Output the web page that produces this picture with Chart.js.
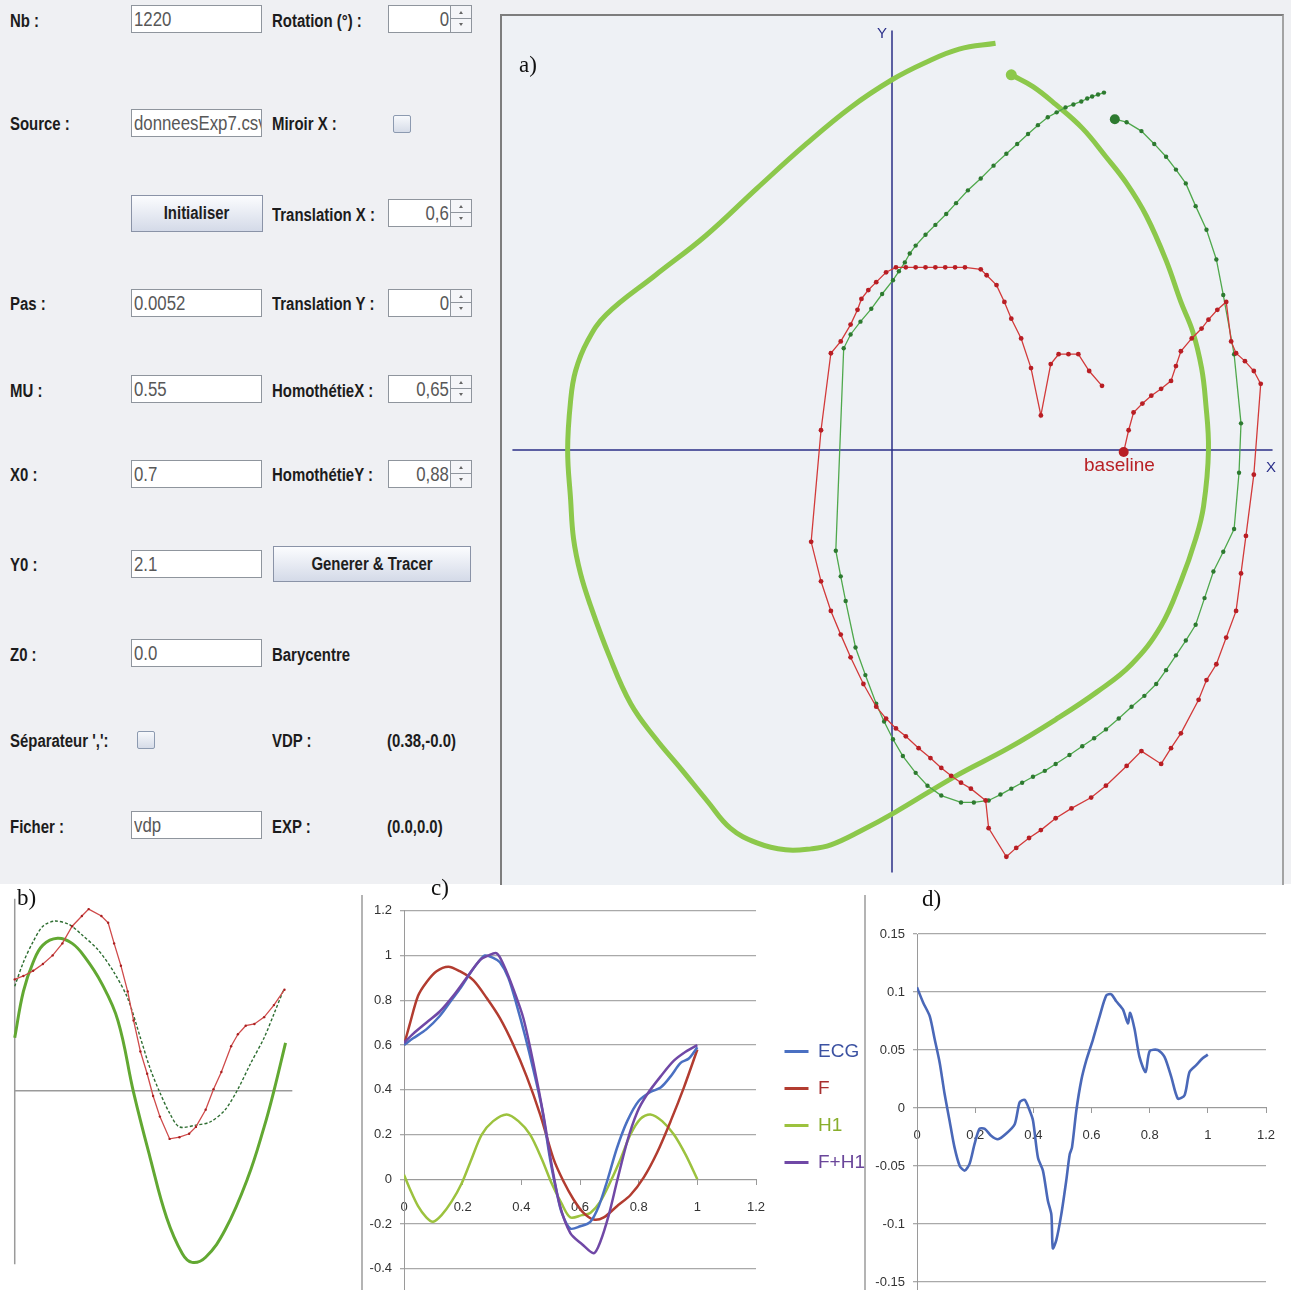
<!DOCTYPE html>
<html><head><meta charset="utf-8">
<script src="https://cdn.jsdelivr.net/npm/chart.js@4.4.1/dist/chart.umd.min.js"></script>
<style>
body{margin:0;width:1291px;height:1290px;position:relative;background:#fff;overflow:hidden;font-family:"Liberation Sans",Arial,sans-serif;}
#top{position:absolute;left:0;top:0;width:1291px;height:884px;background:#eff0f3;}
.lbl{position:absolute;font-weight:bold;font-size:18px;line-height:20px;color:#1c1c1c;white-space:nowrap;transform:scaleX(0.83);transform-origin:0 50%;}
.inp{position:absolute;width:131px;height:28px;box-sizing:border-box;border:1px solid #8f959d;background:#fff;font-size:20px;line-height:27px;padding-left:2px;color:#585858;overflow:hidden;white-space:nowrap;}
.inp span{display:inline-block;transform:scaleX(0.84);transform-origin:0 50%;}
.spin{position:absolute;left:388px;width:84px;height:28px;box-sizing:border-box;border:1px solid #8f959d;background:#fff;}
.spin .v{position:absolute;right:22px;top:0;line-height:27px;font-size:20px;color:#585858;transform:scaleX(0.84);transform-origin:100% 50%;}
.spin .arr{position:absolute;right:0;top:0;width:20px;height:26px;border-left:1px solid #8f959d;background:#f4f5f8;}
.spin .arr .mid{position:absolute;left:0;right:0;top:12px;border-top:1px solid #8f959d;}
.spin .arr i{position:absolute;left:8px;width:0;height:0;border-left:2px solid transparent;border-right:2px solid transparent;}
.spin .arr i.u{top:5px;border-bottom:3px solid #666;}
.spin .arr i.d{top:17px;border-top:3px solid #666;}
.btn{position:absolute;box-sizing:border-box;border:1px solid #8a93a7;background:linear-gradient(#fbfcfe,#d4dae8);font-weight:bold;font-size:18px;color:#1e1e1e;text-align:center;}
.btn span{display:inline-block;transform:scaleX(0.83);transform-origin:50% 50%;}
.chk{position:absolute;width:18px;height:18px;box-sizing:border-box;border:1px solid #8c9ab0;border-radius:2px;background:linear-gradient(#f7f9fc,#d6dce8);}
#frameA{position:absolute;left:500px;top:14px;width:780px;height:869px;border-left:2px solid #7d7d7d;border-top:2px solid #7d7d7d;border-right:2px solid #a3a3a3;background:#eef1f5;}
canvas{position:absolute;}
.txt{position:absolute;white-space:nowrap;}
.serif{font-family:"Liberation Serif","DejaVu Serif",serif;font-size:23px;color:#111;}
.vline{position:absolute;width:0;border-left:2px solid #b4b4b4;}
</style></head>
<body>
<div id="top"></div>
<!-- form -->
<div class="lbl" style="left:10px;top:11px">Nb :</div>
<div class="inp" style="left:131px;top:5px"><span>1220</span></div>
<div class="lbl" style="left:272px;top:11px">Rotation (°) :</div>
<div class="spin" style="top:5px"><span class="v">0</span><div class="arr"><i class="u"></i><div class="mid"></div><i class="d"></i></div></div>

<div class="lbl" style="left:10px;top:114px">Source :</div>
<div class="inp" style="left:131px;top:109px"><span>donneesExp7.csv</span></div>
<div class="lbl" style="left:272px;top:114px">Miroir X :</div>
<div class="chk" style="left:393px;top:115px"></div>

<div class="btn" style="left:131px;top:195px;width:132px;height:37px;line-height:35px"><span>Initialiser</span></div>
<div class="lbl" style="left:272px;top:205px">Translation X :</div>
<div class="spin" style="top:199px"><span class="v">0,6</span><div class="arr"><i class="u"></i><div class="mid"></div><i class="d"></i></div></div>

<div class="lbl" style="left:10px;top:294px">Pas :</div>
<div class="inp" style="left:131px;top:289px"><span>0.0052</span></div>
<div class="lbl" style="left:272px;top:294px">Translation Y :</div>
<div class="spin" style="top:289px"><span class="v">0</span><div class="arr"><i class="u"></i><div class="mid"></div><i class="d"></i></div></div>

<div class="lbl" style="left:10px;top:381px">MU :</div>
<div class="inp" style="left:131px;top:375px"><span>0.55</span></div>
<div class="lbl" style="left:272px;top:381px">HomothétieX :</div>
<div class="spin" style="top:375px"><span class="v">0,65</span><div class="arr"><i class="u"></i><div class="mid"></div><i class="d"></i></div></div>

<div class="lbl" style="left:10px;top:465px">X0 :</div>
<div class="inp" style="left:131px;top:460px"><span>0.7</span></div>
<div class="lbl" style="left:272px;top:465px">HomothétieY :</div>
<div class="spin" style="top:460px"><span class="v">0,88</span><div class="arr"><i class="u"></i><div class="mid"></div><i class="d"></i></div></div>

<div class="lbl" style="left:10px;top:555px">Y0 :</div>
<div class="inp" style="left:131px;top:550px"><span>2.1</span></div>
<div class="btn" style="left:273px;top:546px;width:198px;height:36px;line-height:34px"><span>Generer &amp; Tracer</span></div>

<div class="lbl" style="left:10px;top:645px">Z0 :</div>
<div class="inp" style="left:131px;top:639px"><span>0.0</span></div>
<div class="lbl" style="left:272px;top:645px">Barycentre</div>

<div class="lbl" style="left:10px;top:731px">Séparateur ',':</div>
<div class="chk" style="left:137px;top:731px"></div>
<div class="lbl" style="left:272px;top:731px">VDP :</div>
<div class="lbl" style="left:387px;top:731px">(0.38,-0.0)</div>

<div class="lbl" style="left:10px;top:817px">Ficher :</div>
<div class="inp" style="left:131px;top:811px"><span>vdp</span></div>
<div class="lbl" style="left:272px;top:817px">EXP :</div>
<div class="lbl" style="left:387px;top:817px">(0.0,0.0)</div>

<div id="frameA"></div>
<canvas id="cA" width="780" height="867" style="left:502px;top:16px"></canvas>
<canvas id="cB" width="310" height="400" style="left:0px;top:885px"></canvas>
<div class="vline" style="left:361px;top:895px;height:395px"></div>
<div class="vline" style="left:864px;top:895px;height:395px"></div>
<canvas id="cD" width="425" height="412" style="left:866px;top:895px"></canvas>
<canvas id="cC" width="725" height="412" style="left:150px;top:895px"></canvas>

<div class="txt serif" style="left:519px;top:52px">a)</div>
<div class="txt" style="left:877px;top:24px;font-size:15px;color:#2a2f8a">Y</div>
<div class="txt" style="left:1266px;top:458px;font-size:15px;color:#2a2f8a">X</div>
<div class="txt" style="left:1084px;top:454px;font-size:19px;color:#b82025">baseline</div>
<div class="txt serif" style="left:17px;top:885px">b)</div>
<div class="txt serif" style="left:431px;top:875px">c)</div>
<div class="txt serif" style="left:922px;top:886px">d)</div>

<script>
// ---------- Panel a) : loops in the X/Y plane ----------
const A_LOOP_X = [1.05,0.68,0.33,0,-0.42,-0.87,-1.37,-1.89,-2.40,-2.90,-3.09,-3.21,-3.26,-3.29,-3.26,-3.23,-3.16,-3.06,-2.87,-2.65,-2.40,-2.14,-1.87,-1.64,-1.37,-1.08,-0.82,-0.62,-0.32,0.03,0.65,1.18,1.66,2.08,2.43,2.73,2.93,3.08,3.16,3.21,3.18,3.14,3.05,2.93,2.78,2.58,2.38,2.17,1.93,1.66,1.43,1.21];
const A_LOOP_Y = [4.12,4.06,3.92,3.75,3.47,3.10,2.65,2.17,1.77,1.37,1.10,0.80,0.50,0,-0.50,-0.90,-1.25,-1.57,-2.08,-2.57,-2.92,-3.23,-3.56,-3.83,-3.98,-4.05,-4.04,-4.00,-3.86,-3.67,-3.30,-3.02,-2.73,-2.45,-2.17,-1.78,-1.33,-0.90,-0.57,0,0.50,0.83,1.20,1.50,1.92,2.37,2.70,2.97,3.26,3.50,3.68,3.80];
const A_DOT_X = [2.26,2.38,2.53,2.66,2.78,2.88,2.98,3.08,3.19,3.29,3.36,3.47,3.54,3.52,3.47,3.36,3.26,3.17,3.08,2.98,2.88,2.78,2.68,2.56,2.43,2.30,2.17,2.05,1.93,1.80,1.66,1.55,1.43,1.32,1.21,1.10,0.98,0.83,0.70,0.50,0.36,0.24,0.11,0.01,-0.08,-0.16,-0.27,-0.37,-0.47,-0.52,-0.57,-0.49,-0.42,-0.32,-0.21,-0.10,0.01,0.07,0.13,0.18,0.24,0.34,0.44,0.55,0.65,0.77,0.90,1.03,1.16,1.27,1.38,1.48,1.58,1.67,1.76,1.84,1.92,1.98,2.03,2.09,2.15];
const A_DOT_Y = [3.35,3.32,3.23,3.10,2.97,2.84,2.70,2.47,2.23,1.93,1.57,0.97,0.27,-0.23,-0.80,-1.03,-1.23,-1.50,-1.77,-1.93,-2.08,-2.23,-2.37,-2.49,-2.60,-2.72,-2.83,-2.92,-3.00,-3.09,-3.18,-3.25,-3.31,-3.37,-3.43,-3.49,-3.55,-3.57,-3.57,-3.50,-3.40,-3.27,-3.10,-2.93,-2.75,-2.57,-2.28,-2.00,-1.53,-1.28,-1.02,1.03,1.17,1.30,1.43,1.58,1.72,1.81,1.90,1.99,2.07,2.18,2.28,2.39,2.50,2.63,2.75,2.88,3.00,3.10,3.20,3.29,3.37,3.42,3.47,3.50,3.53,3.56,3.58,3.60,3.62];
const A_RED_X = [2.35,2.40,2.45,2.54,2.63,2.73,2.83,2.88,2.93,3.04,3.14,3.21,3.30,3.39,3.44,3.49,3.58,3.67,3.74,3.67,3.59,3.54,3.49,3.39,3.29,3.19,3.11,2.93,2.83,2.73,2.53,2.38,2.17,2.02,1.82,1.66,1.51,1.39,1.26,1.16,0.98,0.95,0.80,0.70,0.60,0.50,0.39,0.27,0.14,0.04,-0.06,-0.16,-0.29,-0.42,-0.52,-0.62,-0.72,-0.82,-0.72,-0.62,-0.52,-0.42,-0.35,-0.31,-0.24,-0.16,-0.06,0.04,0.14,0.24,0.34,0.44,0.54,0.64,0.74,0.90,0.96,1.06,1.14,1.21,1.31,1.41,1.51,1.61,1.69,1.79,1.89,2.00,2.13];
const A_RED_Y = [-0.02,0.20,0.38,0.47,0.55,0.62,0.70,0.85,1.00,1.13,1.23,1.32,1.42,1.50,1.10,0.98,0.90,0.80,0.67,-0.25,-0.87,-1.25,-1.63,-1.90,-2.17,-2.33,-2.53,-2.87,-3.02,-3.18,-3.05,-3.20,-3.40,-3.52,-3.63,-3.73,-3.85,-3.93,-4.03,-4.12,-3.83,-3.55,-3.43,-3.37,-3.30,-3.22,-3.12,-3.02,-2.90,-2.82,-2.72,-2.60,-2.37,-2.10,-1.87,-1.63,-1.33,-0.93,0.20,0.98,1.10,1.27,1.42,1.53,1.62,1.70,1.80,1.85,1.85,1.85,1.85,1.85,1.85,1.85,1.85,1.83,1.77,1.67,1.50,1.33,1.13,0.83,0.35,0.87,0.97,0.97,0.97,0.80,0.65];
const A_XAXIS_X = [-3.85, 3.86], A_XAXIS_Y = [0, 0];
const A_YAXIS_X = [0, 0], A_YAXIS_Y = [4.25, -4.28];

// ---------- Panel b) ----------
const B_THICK_X = [0,0.032,0.068,0.104,0.158,0.212,0.259,0.320,0.381,0.439,0.500,0.561,0.619,0.655,0.705,0.777,0.860,0.921,0.957,1.0];
const B_THICK_Y = [0.31,0.58,0.75,0.85,0.89,0.86,0.78,0.63,0.41,-0.01,-0.39,-0.74,-0.95,-1.0,-0.97,-0.81,-0.51,-0.21,0,0.28];
const B_DASH_X = [0,0.032,0.068,0.104,0.147,0.201,0.248,0.309,0.367,0.417,0.464,0.500,0.536,0.572,0.608,0.669,0.723,0.777,0.824,0.871,0.921,0.960,0.993];
const B_DASH_Y = [0.61,0.75,0.87,0.96,0.99,0.97,0.91,0.82,0.69,0.54,0.31,0.13,-0.01,-0.13,-0.21,-0.20,-0.18,-0.11,0.01,0.16,0.31,0.46,0.59];
const B_RED_X = [0,0.032,0.068,0.104,0.140,0.176,0.212,0.248,0.273,0.320,0.345,0.367,0.392,0.417,0.439,0.464,0.489,0.511,0.536,0.572,0.608,0.644,0.669,0.705,0.734,0.763,0.799,0.824,0.853,0.885,0.921,0.957,0.996];
const B_RED_Y = [0.65,0.67,0.70,0.74,0.79,0.86,0.96,1.02,1.06,1.02,0.98,0.86,0.73,0.58,0.41,0.23,0.10,-0.03,-0.15,-0.28,-0.27,-0.25,-0.21,-0.11,0.01,0.11,0.26,0.33,0.38,0.39,0.43,0.50,0.59];
const B_HAXIS_X = [0, 1.025], B_HAXIS_Y = [0, 0];
const B_VAXIS_X = [0, 0], B_VAXIS_Y = [1.12, -1.011];

// ---------- Panel c) ----------
const C_SERIES = ['ECG', 'F', 'H1', 'F+H1'];
const C_ECG_X = [0,0.031,0.076,0.122,0.156,0.190,0.225,0.253,0.276,0.304,0.327,0.356,0.384,0.413,0.441,0.470,0.498,0.521,0.538,0.567,0.601,0.635,0.664,0.692,0.726,0.761,0.800,0.840,0.875,0.909,0.943,0.971,1.0];
const C_ECG_Y = [0.60,0.63,0.67,0.73,0.79,0.85,0.92,0.97,1.00,0.99,0.97,0.90,0.78,0.64,0.49,0.32,0.09,-0.06,-0.15,-0.22,-0.21,-0.19,-0.12,-0.01,0.14,0.26,0.35,0.39,0.41,0.46,0.52,0.54,0.59];
const C_F_X = [0,0.019,0.048,0.076,0.111,0.151,0.190,0.236,0.282,0.327,0.373,0.418,0.464,0.510,0.544,0.578,0.612,0.647,0.681,0.726,0.772,0.818,0.863,0.909,0.954,1.0];
const C_F_Y = [0.60,0.69,0.82,0.88,0.93,0.95,0.93,0.89,0.81,0.72,0.60,0.46,0.29,0.09,-0.01,-0.09,-0.15,-0.18,-0.17,-0.12,-0.07,0.01,0.12,0.26,0.41,0.58];
const C_H1_X = [0,0.019,0.048,0.076,0.099,0.128,0.162,0.196,0.230,0.265,0.304,0.350,0.390,0.430,0.470,0.504,0.538,0.567,0.607,0.635,0.669,0.704,0.738,0.772,0.806,0.840,0.880,0.920,0.960,1.0];
const C_H1_Y = [0.02,-0.04,-0.12,-0.17,-0.19,-0.16,-0.10,-0.02,0.09,0.20,0.26,0.29,0.26,0.20,0.09,-0.02,-0.11,-0.17,-0.16,-0.15,-0.10,-0.01,0.09,0.20,0.27,0.29,0.26,0.20,0.11,0.00];
const C_FH_X = [0,0.031,0.076,0.122,0.168,0.213,0.259,0.287,0.316,0.339,0.373,0.407,0.441,0.475,0.504,0.532,0.567,0.607,0.647,0.669,0.698,0.726,0.761,0.795,0.829,0.875,0.920,0.960,1.0];
const C_FH_Y = [0.61,0.65,0.70,0.75,0.82,0.90,0.98,1.00,1.01,0.96,0.85,0.72,0.52,0.29,0.06,-0.12,-0.24,-0.29,-0.33,-0.28,-0.16,-0.01,0.17,0.30,0.38,0.46,0.53,0.57,0.60];
const C_Y_TICKS = [-0.4, -0.2, 0, 0.2, 0.4, 0.6, 0.8, 1, 1.2];
const C_X_TICKS = [0, 0.2, 0.4, 0.6, 0.8, 1, 1.2];

// ---------- Panel d) ----------
const D_X = [0,0.021,0.044,0.061,0.078,0.095,0.112,0.129,0.147,0.164,0.181,0.198,0.215,0.233,0.255,0.278,0.307,0.336,0.353,0.370,0.387,0.399,0.416,0.433,0.450,0.462,0.467,0.479,0.496,0.513,0.525,0.533,0.548,0.565,0.582,0.605,0.628,0.651,0.668,0.685,0.708,0.725,0.733,0.748,0.765,0.786,0.800,0.828,0.851,0.874,0.897,0.920,0.937,0.960,0.983,1.0];
const D_Y = [0.104,0.091,0.079,0.059,0.039,0.012,-0.011,-0.034,-0.050,-0.054,-0.048,-0.031,-0.018,-0.018,-0.024,-0.027,-0.022,-0.014,0.005,0.007,-0.002,-0.011,-0.043,-0.054,-0.080,-0.092,-0.121,-0.114,-0.092,-0.063,-0.040,-0.034,-0.002,0.024,0.041,0.059,0.079,0.097,0.098,0.092,0.085,0.073,0.082,0.068,0.044,0.031,0.049,0.050,0.044,0.027,0.008,0.011,0.031,0.037,0.043,0.046];
const D_Y_TICKS = [-0.15, -0.1, -0.05, 0, 0.05, 0.1, 0.15];
const D_X_TICKS = [0, 0.2, 0.4, 0.6, 0.8, 1, 1.2];

function pts(xs, ys) { return xs.map((x, i) => ({x: x, y: ys[i]})); }
function fmt(v) { return String(Math.round(v * 1000) / 1000); }

Chart.defaults.font.family = '"Liberation Sans",Arial,sans-serif';
const base = {animation: false, responsive: false, events: [], devicePixelRatio: 1};

// ---- chart a
new Chart(document.getElementById('cA'), {
  type: 'scatter',
  data: {datasets: [
    {data: pts(A_RED_X, A_RED_Y), showLine: true, borderColor: '#d23a3a', borderWidth: 1.3, backgroundColor: '#b81e24',
     pointRadius: c => c.dataIndex === 0 ? 5 : 2.4, pointBorderWidth: 0, tension: 0, order: 1},
    {data: pts(A_DOT_X, A_DOT_Y), showLine: true, borderColor: '#4fa84c', borderWidth: 1.3, backgroundColor: '#2d7a30',
     pointRadius: c => c.dataIndex === 0 ? 5 : 2.2, pointBorderWidth: 0, tension: 0, order: 2},
    {data: pts(A_LOOP_X, A_LOOP_Y), showLine: true, borderColor: '#8cc84b', borderWidth: 5, backgroundColor: '#8cc84b',
     pointRadius: c => c.dataIndex === A_LOOP_X.length - 1 ? 5.5 : 0, pointBorderWidth: 0, tension: 0.4, order: 3},
    {data: pts(A_XAXIS_X, A_XAXIS_Y), showLine: true, borderColor: '#2a2e86', borderWidth: 1.5, pointRadius: 0, order: 4},
    {data: pts(A_YAXIS_X, A_YAXIS_Y), showLine: true, borderColor: '#2a2e86', borderWidth: 1.5, pointRadius: 0, order: 4}
  ]},
  options: Object.assign({}, base, {
    layout: {padding: 0},
    plugins: {legend: {display: false}, tooltip: {enabled: false}},
    scales: {
      x: {type: 'linear', display: false, min: -3.90, max: 3.90},
      y: {type: 'linear', display: false, min: -4.33, max: 4.34}
    }
  })
});

// ---- chart b
new Chart(document.getElementById('cB'), {
  type: 'scatter',
  data: {datasets: [
    {data: pts(B_RED_X, B_RED_Y), showLine: true, borderColor: '#cf4a4a', borderWidth: 1.3, backgroundColor: '#a82020',
     pointRadius: 1.2, pointBorderWidth: 0, tension: 0, order: 1},
    {data: pts(B_DASH_X, B_DASH_Y), showLine: true, borderColor: '#2f6e32', borderWidth: 1.4, borderDash: [3, 2],
     pointRadius: 0, tension: 0.3, order: 2},
    {data: pts(B_THICK_X, B_THICK_Y), showLine: true, borderColor: '#62a832', borderWidth: 3,
     pointRadius: 0, tension: 0.4, order: 3},
    {data: pts(B_HAXIS_X, B_HAXIS_Y), showLine: true, borderColor: '#9a9a9a', borderWidth: 1.5, pointRadius: 0, order: 4},
    {data: pts(B_VAXIS_X, B_VAXIS_Y), showLine: true, borderColor: '#9a9a9a', borderWidth: 1.5, pointRadius: 0, order: 4}
  ]},
  options: Object.assign({}, base, {
    layout: {padding: 0},
    plugins: {legend: {display: false}, tooltip: {enabled: false}},
    scales: {
      x: {type: 'linear', display: false, min: -0.0396, max: 1.0755},
      y: {type: 'linear', display: false, min: -1.1086, max: 1.1771}
    }
  })
});

// shared Excel-like axes
function excelScales(xMin, xMax, xTicks, yMin, yMax, yTicks, yWidth) {
  return {
    x: {type: 'linear', position: {y: 0}, min: xMin, max: xMax,
        afterBuildTicks: s => { s.ticks = xTicks.map(v => ({value: v})); },
        ticks: {callback: fmt, color: '#333', font: {size: 13}, padding: 15, maxRotation: 0, autoSkip: false},
        grid: {drawOnChartArea: false, drawTicks: true, tickLength: 5, color: '#9a9a9a'},
        border: {color: '#9a9a9a', width: 1}},
    y: {type: 'linear', min: yMin, max: yMax,
        afterBuildTicks: s => { s.ticks = yTicks.map(v => ({value: v})); },
        ticks: {callback: fmt, color: '#333', font: {size: 13}, padding: 8, autoSkip: false},
        grid: {color: '#a9a9a9', lineWidth: 1.3, tickLength: 4},
        border: {color: '#9a9a9a', width: 1},
        afterFit: s => { s.width = yWidth; }}
  };
}

// ---- chart c
const C_COLORS = ['#4a70c2', '#b23c30', '#9cc23e', '#7048a6'];
const C_TEXT = ['#3c52a2', '#a83030', '#88ae2c', '#6a469a'];
const cScales = excelScales(0, 1.2, C_X_TICKS, -0.5, 1.2, C_Y_TICKS, 254);
cScales.gap = {type: 'linear', position: 'right', display: true, grid: {display: false}, border: {display: false},
  ticks: {display: false}, afterFit: s => { s.width = 10.5; }};
new Chart(document.getElementById('cC'), {
  type: 'scatter',
  data: {datasets: [
    {label: C_SERIES[0], data: pts(C_ECG_X, C_ECG_Y), showLine: true, borderColor: C_COLORS[0], backgroundColor: C_COLORS[0], borderWidth: 2.5, pointRadius: 0, tension: 0.3, order: 2},
    {label: C_SERIES[1], data: pts(C_F_X, C_F_Y), showLine: true, borderColor: C_COLORS[1], backgroundColor: C_COLORS[1], borderWidth: 2.5, pointRadius: 0, tension: 0.3, order: 3},
    {label: C_SERIES[2], data: pts(C_H1_X, C_H1_Y), showLine: true, borderColor: C_COLORS[2], backgroundColor: C_COLORS[2], borderWidth: 2.5, pointRadius: 0, tension: 0.3, order: 4},
    {label: C_SERIES[3], data: pts(C_FH_X, C_FH_Y), showLine: true, borderColor: C_COLORS[3], backgroundColor: C_COLORS[3], borderWidth: 2.5, pointRadius: 0, tension: 0.3, order: 1}
  ]},
  options: Object.assign({}, base, {
    layout: {padding: {top: 12, left: 0, right: 0, bottom: 0}, autoPadding: false},
    plugins: {
      tooltip: {enabled: false},
      legend: {display: true, position: 'right', align: 'center',
        labels: {font: {size: 19}, boxWidth: 24, boxHeight: 3, padding: 18,
          generateLabels: chart => chart.data.datasets.map((ds, i) => ({
            text: ds.label, fillStyle: C_COLORS[i], strokeStyle: C_COLORS[i], lineWidth: 0,
            fontColor: C_TEXT[i], hidden: false, datasetIndex: i}))}}
    },
    scales: cScales
  })
});

// ---- chart d
new Chart(document.getElementById('cD'), {
  type: 'scatter',
  data: {datasets: [
    {label: 'ECG - (F+H1)', data: pts(D_X, D_Y), showLine: true, borderColor: '#4a68b8', backgroundColor: '#4a68b8', borderWidth: 2.6, pointRadius: 0, tension: 0.25}
  ]},
  options: Object.assign({}, base, {
    layout: {padding: {top: 39, left: 0, right: 25, bottom: 0}, autoPadding: false},
    plugins: {legend: {display: false}, tooltip: {enabled: false}},
    scales: excelScales(0, 1.2, D_X_TICKS, -0.158, 0.15, D_Y_TICKS, 51)
  })
});
</script>
</body></html>
